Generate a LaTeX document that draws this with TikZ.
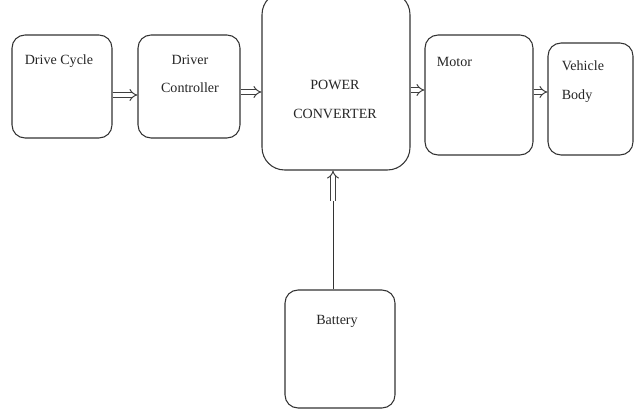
\documentclass[tikz,border=0pt]{standalone}
\usepackage{fontspec}
\setmainfont{Liberation Serif}
\usetikzlibrary{arrows.meta}
\tikzset{
    blk/.style={rectangle,draw=black!80,line width=0.6pt,rounded corners=0.26cm,inner sep=0pt},
    txt/.style={inner sep=0pt,font=\fontsize{8}{16.4}\selectfont,text=black!85},
    pipe/.style={draw=black!75,line width=0.55pt,double,double distance=1.8pt,-{Implies}}
}
\begin{document}
\begin{tikzpicture}[x=0.02cm,y=-0.02cm]
        \clip (0,0) rectangle (635,415);
        \fill[white] (0,0) rectangle (635,415);
        \begin{scope}[every node/.style={blk}]
            \node[minimum width=2cm,minimum height=2.06cm] (drive) at (62,86.5) {};
            \node[minimum width=2.04cm,minimum height=2.06cm] (ctrl) at (189,86.5) {};
            \node[minimum width=2.96cm,minimum height=3.56cm,rounded corners=0.45cm] (pc) at (336,81) {};
            \node[minimum width=2.16cm,minimum height=2.4cm] (motor) at (479,95) {};
            \node[minimum width=1.7cm,minimum height=2.24cm] (body) at (590.5,99) {};
            \node[minimum width=2.2cm,minimum height=2.36cm] (bat) at (340,349) {};
        \end{scope}
        \begin{scope}[every node/.style={txt}]
            \node[anchor=west] (drivetxt) at ([shift={(13,27)}]drive.north west) {Drive Cycle};
            \node[align=center] (ctrltxt) at ([shift={(1,-12.5)}]ctrl.center) {Driver\\Controller};
            \node[align=center] (pctxt) at ([shift={(-1,18.5)}]pc.center) {POWER\\CONVERTER};
            \node[anchor=west] (motortxt) at ([shift={(12,27)}]motor.north west) {Motor};
            \node[anchor=west,align=left] (bodytxt) at ([shift={(14,39.5)}]body.north west) {Vehicle\\Body};
            \node (battxt) at ([shift={(-3,32)}]bat.north) {Battery};
        \end{scope}
        % connectors
        \draw[pipe] ([yshift=-0.17cm]drive.east) coordinate (a1) -- (ctrl.west |- a1);
        \draw[pipe] ([yshift=-0.11cm]ctrl.east) coordinate (a2) -- (pc.west |- a2);
        \coordinate (a3) at ([yshift=0.1cm]motor.west);
        \draw[pipe] (pc.east |- a3) -- (a3);
        \coordinate (a4) at ([yshift=0.14cm]body.west);
        \draw[pipe] (motor.east |- a4) -- (a4);
        \coordinate (e) at ([yshift=-0.6cm]pc.south);
        \draw[draw=black!80,line width=0.5pt] ([xshift=-0.14cm]bat.north) coordinate (d) -- (e -| d);
        \draw[pipe] (e -| d) -- (pc.south -| d);
    \end{tikzpicture}
\end{document}
